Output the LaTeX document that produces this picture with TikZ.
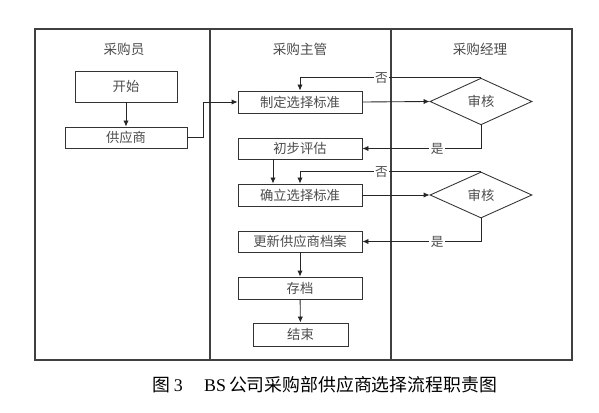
\documentclass[tikz,border=0pt]{standalone}
\usepackage{fontspec}
\setmainfont{Liberation Serif}
\newfontfamily\cjk{Noto Sans CJK SC}
\usetikzlibrary{arrows.meta,shapes.geometric}
\begin{document}
\begin{tikzpicture}[x=0.75pt,y=-0.75pt,
  frame/.style={draw=black!75,line width=1.1pt},
  box/.style={draw=black!80,line width=0.65pt,inner sep=0pt,font=\cjk\fontsize{10pt}{12pt}\selectfont,text=black!70,minimum width=93pt,minimum height=16.5pt},
  dia/.style={draw=black!80,line width=0.65pt,diamond,aspect=2,inner sep=0pt,font=\cjk\fontsize{10pt}{12pt}\selectfont,text=black!70,minimum width=76.5pt,minimum height=35pt},
  head/.style={font=\cjk\fontsize{10.2pt}{12pt}\selectfont,text=black!70},
  lab/.style={fill=white,inner sep=1pt,font=\cjk\fontsize{9.5pt}{11pt}\selectfont,text=black!70},
  arr/.style={draw=black!85,line width=0.65pt,-{Latex[length=4.5pt,width=4pt]}},
  ln/.style={draw=black!85,line width=0.65pt}]
\useasboundingbox (0,0) rectangle (599,413);
% frame and lanes
\draw[frame] (35,29) rectangle (572,360);
\draw[frame] (210,29) -- (210,360);
\draw[frame] (391,29) -- (391,360);
\node[head] (h1) at (124,49) {采购员};
\node[head] (h2) at (300,49) {采购主管};
\node[head] (h3) at (480,49) {采购经理};
% boxes
\node[box,minimum width=76.5pt,minimum height=23.25pt] (ks) at (126,86.5) {开始};
\node[box,minimum width=91.5pt,minimum height=15.75pt] (gys) at (126,137.5) {供应商};
\node[box] (zd) at (300,102) {制定选择标准};
\node[box,minimum height=15.75pt] (cb) at (300,148.5) {初步评估};
\node[box] (ql) at (300,195) {确立选择标准};
\node[box,minimum height=15.75pt] (gx) at (300,241.5) {更新供应商档案};
\node[box] (cd) at (300,288) {存档};
\node[box,minimum width=71.25pt,minimum height=17.25pt] (js) at (300.5,334.5) {结束};
\node[dia] (s1) at (481,101.5) {审核};
\node[dia,minimum height=34.5pt] (s2) at (481,195) {审核};
% connectors
\draw[arr] (ks) -- (gys);
\draw[arr] (gys.east) -- ++(16,0) |- (zd.west);
\draw[arr] (zd.east) -- (s1.west);
\draw[arr] (s1.north) -- node[lab,pos=0.55]{否} (zd.north |- s1.north) -- (zd.north);
\draw[arr] (s1.south) |- node[lab,pos=0.685]{是} (cb.east);
\draw[arr] ([xshift=-20.25pt]cb.south) -- ([xshift=-20.25pt]ql.north);
\draw[arr] (ql.east) -- (s2.west);
\draw[arr] (s2.north) -- node[lab,pos=0.55]{否} (ql.north |- s2.north) -- (ql.north);
\draw[arr] (s2.south) |- node[lab,pos=0.685]{是} (gx.east);
\draw[arr] (gx) -- (cd);
\draw[arr] (cd) -- (js);
% caption
\node[font=\fontsize{13.4pt}{15pt}\selectfont] (cap) at (325,385) {{\cjk 图}\,3\hspace{1.2em}BS\,{\cjk 公司采购部供应商选择流程职责图}};
\end{tikzpicture}
\end{document}
